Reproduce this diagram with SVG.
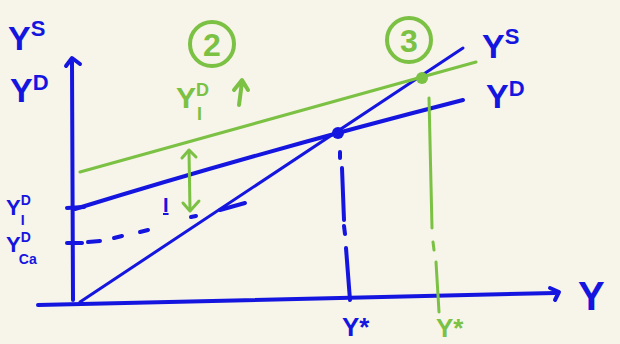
<svg xmlns="http://www.w3.org/2000/svg" width="620" height="344" viewBox="0 0 620 344">
<style>
.b{stroke:#1515e0;fill:none;stroke-linecap:round;stroke-linejoin:round}
.g{stroke:#7bc143;fill:none;stroke-linecap:round;stroke-linejoin:round}
.tb{fill:#1515e0;font-family:"Liberation Sans",Arial,sans-serif;font-weight:bold}
.tg{fill:#7bc143;font-family:"Liberation Sans",Arial,sans-serif;font-weight:bold}
</style>
<rect width="620" height="344" fill="#f7f4e9"/>
<g id="connectors">
<!-- axes -->
<path class="b" stroke-width="4" d="M73 300 L72 62"/>
<path class="b" stroke-width="4" d="M66 66 L72 58 L80 64"/>
<path class="b" stroke-width="4" d="M38 305 Q300 300 555 293"/>
<path class="b" stroke-width="4" d="M550 288 L559 292 L555 300"/>
<!-- 45 degree line -->
<path class="b" stroke-width="3" d="M80 302 L463 48"/>
<!-- blue YD -->
<path class="b" stroke-width="4" d="M75 209 Q260 152 463 100"/>
<!-- green YD -->
<path class="g" stroke-width="3" d="M80 172 L476 62"/>
<!-- ticks -->
<path class="b" stroke-width="4" d="M67 208 L84 207"/>
<path class="b" stroke-width="4" d="M67 243 L82 243"/>
<!-- dashed YCa line -->
<path class="b" stroke-width="4" d="M88 242 L100 241 M114 238 L122 236 M140 232 L148 230 M191 217 L196 216 M220 210 L245 203"/>
<!-- green double arrow -->
<path class="g" stroke-width="3" d="M189 152 L190 210"/>
<path class="g" stroke-width="3" d="M182 158 L189 150 L196 157"/>
<path class="g" stroke-width="3" d="M183 203 L190 211 L199 201"/>
<!-- blue dash-dot vertical -->
<path class="b" stroke-width="4" d="M340 152 L340 158 M342 168 L344 220 M344 226 L345 234 M346 248 L350 300"/>
<!-- green dash-dot vertical -->
<path class="g" stroke-width="3" d="M429 98 L432 228 M433 242 L434 250 M436 262 L439 312"/>
</g>
<g id="points">
<circle cx="338" cy="133" r="6" fill="#1515e0"/>
<circle cx="422" cy="78" r="6" fill="#7bc143"/>
</g>
<g id="labels-left">
<text class="tb" x="8" y="50" font-size="34">Y<tspan font-size="22" dy="-14">S</tspan></text>
<text class="tb" x="10" y="102" font-size="34">Y<tspan font-size="22" dy="-12">D</tspan></text>
<text class="tb" x="6" y="215" font-size="22">Y<tspan font-size="14" dy="-10">D</tspan><tspan font-size="14" dx="-10" dy="20">I</tspan></text>
<text class="tb" x="6" y="252" font-size="22">Y<tspan font-size="14" dy="-10">D</tspan><tspan font-size="14" dx="-12" dy="22">Ca</tspan></text>
<text class="tb" x="163" y="212" font-size="20" text-decoration="underline">I</text>
</g>
<g id="labels-green">
<circle class="g" cx="212" cy="44" r="22" stroke-width="4"/>
<text class="tg" x="212" y="56" font-size="32" text-anchor="middle">2</text>
<circle class="g" cx="409" cy="40" r="22" stroke-width="4"/>
<text class="tg" x="409" y="52" font-size="32" text-anchor="middle">3</text>
<text class="tg" x="176" y="108" font-size="30">Y<tspan font-size="18" dy="-12">D</tspan><tspan font-size="18" dx="-12" dy="24">I</tspan></text>
<path class="g" stroke-width="4" d="M239 105 L242 82 M234 90 L242 80 L248 90"/>
</g>
<g id="labels-right">
<text class="tb" x="482" y="58" font-size="34">Y<tspan font-size="22" dy="-14">S</tspan></text>
<text class="tb" x="486" y="108" font-size="34">Y<tspan font-size="22" dy="-12">D</tspan></text>
<text class="tb" x="578" y="310" font-size="40">Y</text>
</g>
<g id="labels-bottom">
<text class="tb" x="342" y="336" font-size="26">Y*</text>
<text class="tg" x="436" y="337" font-size="26">Y*</text>
</g>
</svg>
